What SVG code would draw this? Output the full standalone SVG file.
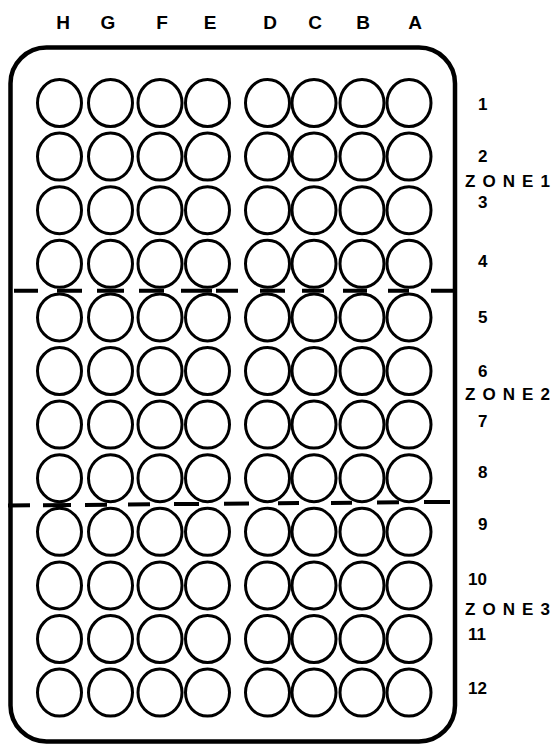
<svg xmlns="http://www.w3.org/2000/svg" width="555" height="744" viewBox="0 0 555 744">
<style>
.frame{fill:none;stroke:#000;stroke-width:4.5}
.well{fill:#fff;stroke:#000;stroke-width:3}
.col{font-family:"Liberation Sans",Arial,sans-serif;font-weight:bold;font-size:19px;fill:#000;text-anchor:middle}
.row{font-family:"Liberation Sans",Arial,sans-serif;font-weight:bold;font-size:17px;fill:#000}
.zone{font-family:"Liberation Sans",Arial,sans-serif;font-weight:bold;font-size:17px;fill:#000}
.dash{fill:none;stroke:#000;stroke-width:4}
</style>
<defs>
<ellipse id="w" cx="0" cy="0" rx="22" ry="23.5" class="well"/>
</defs>
<rect id="plate" class="frame" x="10.5" y="47.5" width="444.5" height="694" rx="36" ry="36"/>
<g id="column-labels">
<text class="col" x="63" y="29">H</text>
<text class="col" x="108" y="29">G</text>
<text class="col" x="162" y="29">F</text>
<text class="col" x="210" y="29">E</text>
<text class="col" x="270" y="29">D</text>
<text class="col" x="315" y="29">C</text>
<text class="col" x="363" y="29">B</text>
<text class="col" x="415" y="29">A</text>
</g>
<g id="wells">
<g id="row1" transform="translate(0,103)"><use href="#w" x="59.5"/><use href="#w" x="110.5"/><use href="#w" x="160"/><use href="#w" x="207.5"/><use href="#w" x="267.5"/><use href="#w" x="314"/><use href="#w" x="362"/><use href="#w" x="409"/></g>
<g id="row2" transform="translate(0,156.6)"><use href="#w" x="59.5"/><use href="#w" x="110.5"/><use href="#w" x="160"/><use href="#w" x="207.5"/><use href="#w" x="267.5"/><use href="#w" x="314"/><use href="#w" x="362"/><use href="#w" x="409"/></g>
<g id="row3" transform="translate(0,210.2)"><use href="#w" x="59.5"/><use href="#w" x="110.5"/><use href="#w" x="160"/><use href="#w" x="207.5"/><use href="#w" x="267.5"/><use href="#w" x="314"/><use href="#w" x="362"/><use href="#w" x="409"/></g>
<g id="row4" transform="translate(0,263.8)"><use href="#w" x="59.5"/><use href="#w" x="110.5"/><use href="#w" x="160"/><use href="#w" x="207.5"/><use href="#w" x="267.5"/><use href="#w" x="314"/><use href="#w" x="362"/><use href="#w" x="409"/></g>
<g id="row5" transform="translate(0,317.4)"><use href="#w" x="59.5"/><use href="#w" x="110.5"/><use href="#w" x="160"/><use href="#w" x="207.5"/><use href="#w" x="267.5"/><use href="#w" x="314"/><use href="#w" x="362"/><use href="#w" x="409"/></g>
<g id="row6" transform="translate(0,371)"><use href="#w" x="59.5"/><use href="#w" x="110.5"/><use href="#w" x="160"/><use href="#w" x="207.5"/><use href="#w" x="267.5"/><use href="#w" x="314"/><use href="#w" x="362"/><use href="#w" x="409"/></g>
<g id="row7" transform="translate(0,424.6)"><use href="#w" x="59.5"/><use href="#w" x="110.5"/><use href="#w" x="160"/><use href="#w" x="207.5"/><use href="#w" x="267.5"/><use href="#w" x="314"/><use href="#w" x="362"/><use href="#w" x="409"/></g>
<g id="row8" transform="translate(0,478.2)"><use href="#w" x="59.5"/><use href="#w" x="110.5"/><use href="#w" x="160"/><use href="#w" x="207.5"/><use href="#w" x="267.5"/><use href="#w" x="314"/><use href="#w" x="362"/><use href="#w" x="409"/></g>
<g id="row9" transform="translate(0,531.8)"><use href="#w" x="59.5"/><use href="#w" x="110.5"/><use href="#w" x="160"/><use href="#w" x="207.5"/><use href="#w" x="267.5"/><use href="#w" x="314"/><use href="#w" x="362"/><use href="#w" x="409"/></g>
<g id="row10" transform="translate(0,585.4)"><use href="#w" x="59.5"/><use href="#w" x="110.5"/><use href="#w" x="160"/><use href="#w" x="207.5"/><use href="#w" x="267.5"/><use href="#w" x="314"/><use href="#w" x="362"/><use href="#w" x="409"/></g>
<g id="row11" transform="translate(0,639)"><use href="#w" x="59.5"/><use href="#w" x="110.5"/><use href="#w" x="160"/><use href="#w" x="207.5"/><use href="#w" x="267.5"/><use href="#w" x="314"/><use href="#w" x="362"/><use href="#w" x="409"/></g>
<g id="row12" transform="translate(0,692.6)"><use href="#w" x="59.5"/><use href="#w" x="110.5"/><use href="#w" x="160"/><use href="#w" x="207.5"/><use href="#w" x="267.5"/><use href="#w" x="314"/><use href="#w" x="362"/><use href="#w" x="409"/></g>
</g>
<g id="zone-dividers">
<path class="dash" d="M14 290.7H38M57 290.7H82M97 290.7H124M139 290.7H164M181 290.7H212M216 290.7H238M260 290.7H285M302 290.7H324M343 290.7H367M388 290.7H409M431 290.7H456"/>
<path class="dash" d="M8 505.5L30 505.3M43 505.2L71 505M85 504.9L107 504.7M128 504.5L150 504.3M174 504.1L199 503.9M224 503.7L249 503.5M278 503.3L299 503.1M331 502.9L352 502.7M377 502.5L399 502.3M424 502.1L450 501.9"/>
</g>
<g id="row-labels">
<text class="row" x="478" y="110">1</text>
<text class="row" x="478" y="162">2</text>
<text class="zone" x="465" y="187" textLength="85" lengthAdjust="spacing">ZONE1</text>
<text class="row" x="478" y="208">3</text>
<text class="row" x="478" y="267">4</text>
<text class="row" x="478" y="323">5</text>
<text class="row" x="478" y="377">6</text>
<text class="zone" x="465" y="400" textLength="85" lengthAdjust="spacing">ZONE2</text>
<text class="row" x="478" y="427">7</text>
<text class="row" x="478" y="478">8</text>
<text class="row" x="478" y="530">9</text>
<text class="row" x="468" y="585">10</text>
<text class="zone" x="465" y="615" textLength="85" lengthAdjust="spacing">ZONE3</text>
<text class="row" x="468" y="640">11</text>
<text class="row" x="468" y="694">12</text>
</g>
</svg>
